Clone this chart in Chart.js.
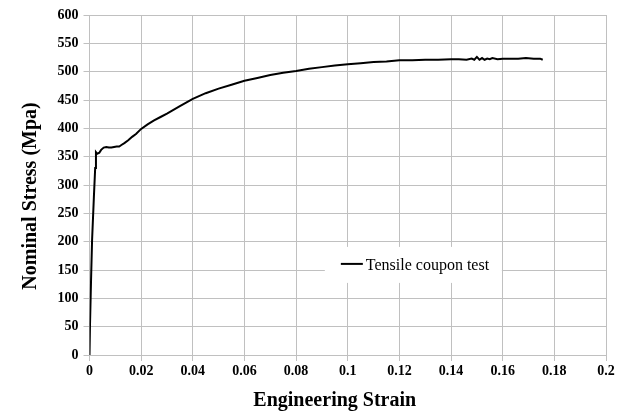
<!DOCTYPE html>
<html>
<head>
<meta charset="utf-8">
<script src="https://cdn.jsdelivr.net/npm/chart.js@4"></script>
<style>
  html, body { margin: 0; padding: 0; background: #fff; }
  #wrap { width: 627px; height: 413px; }
</style>
</head>
<body>
<div id="wrap"><canvas id="stressStrainChart" width="627" height="413"></canvas></div>
<script>
// coupon test readings: engineering strain vs nominal stress (MPa)
const strain = [
  0, 0.0002, 0.0006, 0.001, 0.0017, 0.0022, 0.0025, 0.003, 0.0038, 0.0045,
  0.0055, 0.0065, 0.0075, 0.0085, 0.0095, 0.0105, 0.0115, 0.0125, 0.0135, 0.015,
  0.0165, 0.018, 0.02, 0.0225, 0.025, 0.0275, 0.03, 0.035, 0.04, 0.045,
  0.05, 0.055, 0.06, 0.065, 0.07, 0.075, 0.08, 0.085, 0.09, 0.095,
  0.1, 0.105, 0.11, 0.115, 0.12, 0.125, 0.13, 0.135, 0.14, 0.143,
  0.146, 0.148, 0.149, 0.15, 0.151, 0.152, 0.153, 0.154, 0.155, 0.156,
  0.158, 0.16, 0.163, 0.166, 0.169, 0.172, 0.1745, 0.1755
];
const stress = [
  0, 55, 132, 203, 279, 330, 358, 355, 357, 362,
  366, 367, 366, 366, 367, 368, 368, 371, 374, 379,
  385, 390, 399, 407, 414, 420, 426, 439, 452, 462,
  470, 477, 484, 489, 494, 498, 501, 505, 508, 511,
  513, 515, 517, 518, 520, 520, 521, 521, 522, 522,
  521, 523, 521, 526, 521, 524, 521, 523, 522, 524,
  522, 523, 523, 523, 524, 523, 523, 521
];

const xTicks = [0, 0.02, 0.04, 0.06, 0.08, 0.1, 0.12, 0.14, 0.16, 0.18, 0.2];
const yTicks = [0, 50, 100, 150, 200, 250, 300, 350, 400, 450, 500, 550, 600];

const seriesLabel = 'Tensile coupon test';
const xTitle = 'Engineering Strain';
const yTitle = 'Nominal Stress (Mpa)';

const gridColor = '#c0c0c0';
const tickFont = { family: 'Liberation Serif', size: 14, weight: 'bold' };
const titleCss = 'bold 20px "Liberation Serif"';

// axis titles, drawn a little off the plot centre like the spreadsheet export
const axisTitles = {
  id: 'axisTitles',
  afterDraw(chart) {
    const { ctx, chartArea } = chart;
    const midX = (chartArea.left + chartArea.right) / 2;
    const midY = (chartArea.top + chartArea.bottom) / 2;
    ctx.save();
    ctx.fillStyle = '#000';
    ctx.font = titleCss;
    ctx.textAlign = 'center';
    ctx.textBaseline = 'middle';
    ctx.fillText(xTitle, midX - 13, chart.height - 12);
    ctx.translate(31, midY + 11);
    ctx.rotate(-Math.PI / 2);
    ctx.fillText(yTitle, 0, 0);
    ctx.restore();
  }
};

// legend sits inside the plot on a white patch
const insideLegend = {
  id: 'insideLegend',
  afterDraw(chart) {
    const { ctx, chartArea } = chart;
    const ds = chart.data.datasets[0];
    const cx = chartArea.left + 0.627 * (chartArea.right - chartArea.left);
    const cy = chartArea.top + 0.735 * (chartArea.bottom - chartArea.top);
    const boxW = 177, boxH = 36;
    ctx.save();
    ctx.fillStyle = '#ffffff';
    ctx.fillRect(cx - boxW / 2, cy - boxH / 2, boxW, boxH);
    const lx = cx - boxW / 2 + 16;
    ctx.strokeStyle = ds.borderColor;
    ctx.lineWidth = 2;
    ctx.beginPath();
    ctx.moveTo(lx, cy - 1);
    ctx.lineTo(lx + 22, cy - 1);
    ctx.stroke();
    ctx.fillStyle = '#000';
    ctx.font = '16px "Liberation Serif"';
    ctx.textBaseline = 'middle';
    ctx.fillText(ds.label, lx + 25, cy + 1);
    ctx.restore();
  }
};

const ctx = document.getElementById('stressStrainChart').getContext('2d');
const stressStrainChart = new Chart(ctx, {
  type: 'scatter',
  data: {
    datasets: [
      {
        label: seriesLabel,
        data: strain.map((s, i) => ({ x: s, y: stress[i] })),
        showLine: true,
        borderColor: '#000000',
        backgroundColor: '#000000',
        borderWidth: 2,
        pointRadius: 0,
        tension: 0,
      },
    ],
  },
  options: {
    responsive: false,
    animation: false,
    layout: { padding: { top: 15, right: 21, left: 0, bottom: 0 } },
    plugins: {
      legend: { display: false },
      tooltip: { enabled: false },
    },
    scales: {
      x: {
        type: 'linear',
        min: 0,
        max: 0.2,
        afterBuildTicks: (scale) => { scale.ticks = xTicks.map(v => ({ value: v })); },
        afterFit: (scale) => { scale.height = 58; },
        grid: { color: gridColor, tickLength: 6 },
        border: { color: gridColor },
        ticks: {
          color: '#000', font: tickFont, padding: 2, maxRotation: 0,
          callback: (v) => String(v),
        },
      },
      y: {
        min: 0,
        max: 600,
        afterBuildTicks: (scale) => { scale.ticks = yTicks.map(v => ({ value: v })); },
        afterFit: (scale) => { scale.width = 89.5; },
        grid: { color: gridColor, tickLength: 6 },
        border: { color: gridColor },
        ticks: { color: '#000', font: tickFont, padding: 5 },
      },
    },
  },
  plugins: [axisTitles, insideLegend],
});
</script>
</body>
</html>
